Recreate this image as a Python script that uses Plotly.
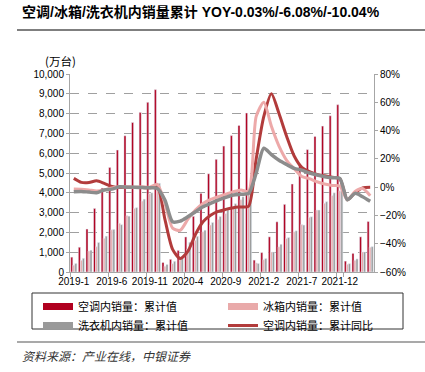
import plotly.graph_objects as go

months = ["2019-1", "2019-2", "2019-3", "2019-4", "2019-5", "2019-6", "2019-7", "2019-8", "2019-9", "2019-10", "2019-11", "2019-12",
          "2020-1", "2020-2", "2020-3", "2020-4", "2020-5", "2020-6", "2020-7", "2020-8", "2020-9", "2020-10", "2020-11", "2020-12",
          "2021-1", "2021-2", "2021-3", "2021-4", "2021-5", "2021-6", "2021-7", "2021-8", "2021-9", "2021-10", "2021-11", "2021-12",
          "2022-1", "2022-2", "2022-3", "2022-4"]

tick_labels = ["2019-1", "2019-6", "2019-11", "2020-4", "2020-9", "2021-2", "2021-7", "2021-12"]

# cumulative domestic sales (万台)
ac_cum = [750, 1250, 2170, 3210, 4240, 5280, 6160, 6880, 7550, 8060, 8570, 9210,
          480, 640, 1090, 1770, 2810, 3970, 4960, 5690, 6360, 6890, 7400, 8030,
          600, 980, 1775, 2535, 3415, 4445, 5450, 6180, 6845, 7370, 7890, 8450,
          550, 940, 1775, 2550]
fridge_cum = [340, 590, 1060, 1280, 1700, 2130, 2460, 2850, 3210, 3580, 3950, 4150,
              290, 420, 700, 1150, 1600, 2030, 2370, 2650, 2950, 3300, 3650, 4000,
              460, 620, 1010, 1270, 1690, 2030, 2400, 2760, 3130, 3470, 3860, 4100,
              390, 590, 1010, 1250]
washer_cum = [430, 690, 1100, 1490, 1810, 2150, 2390, 2820, 3250, 3680, 4000, 4480,
              380, 540, 780, 1500, 1800, 2110, 2500, 2800, 3130, 3450, 3800, 4250,
              430, 680, 1010, 1400, 1740, 2080, 2370, 2790, 3130, 3550, 4000, 4480,
              420, 660, 1010, 1280]

# cumulative YoY (%)
ac_yoy = [6.2, 3.4, 3.3, 4.5, 2.7, 0.5, -0.3, 0.0, -0.2, -0.3, -0.5, 0.3,
          -23.0, -44.0, -50.5, -45.5, -33.5, -24.5, -19.8, -17.2, -15.7, -14.5, -14.0, -13.5,
          20.0, 50.0, 66.0, 52.0, 36.0, 22.0, 14.0, 11.0, 9.0, 8.0, 7.0, 6.0,
          -9.0, -4.0, -0.5, -0.03]
fridge_yoy = [-1.4, -1.5, -2.0, -2.7, -2.0, -0.5, 0.3, 0.3, 0.0, 0.2, 0.0, 2.0,
              -11.5, -29.0, -30.5, -22.8, -16.2, -11.5, -8.7, -6.8, -5.0, -3.2, -2.0, -3.0,
              50.0, 60.0, 43.0, 29.0, 19.0, 13.0, 7.5, 6.0, 3.8, 2.2, 1.2, 0.8,
              -9.0, -3.0, -1.0, -6.08]
washer_yoy = [-3.2, -3.0, -3.5, -4.0, -2.0, -1.4, 0.2, 0.0, 0.0, -0.3, -0.5, -0.9,
              -9.3, -24.5, -24.0, -21.0, -17.4, -13.9, -11.5, -9.2, -7.2, -5.6, -5.0, -4.4,
              10.0, 27.5, 23.0, 19.0, 16.0, 13.3, 12.0, 10.0, 8.6, 7.4, 6.7, 6.2,
              -9.0, -4.4, -6.8, -10.04]

RED = "#B0001F"
PINK = "#E9AAAA"
GRAY = "#9A9A9A"
L_RED = "#B23B3B"
L_PINK = "#EDA9A9"
L_GRAY = "#8C8C8C"

FONT = "Liberation Sans, Arial, Noto Sans CJK SC, sans-serif"
CJK = "Noto Sans CJK SC, Liberation Sans, sans-serif"
SMOOTH = 0.7

fig = go.Figure()

fig.add_trace(go.Bar(x=months, y=ac_cum, marker_color=RED, showlegend=False, name="空调内销量：累计值"))
fig.add_trace(go.Bar(x=months, y=fridge_cum, marker_color=PINK, showlegend=False, name="冰箱内销量：累计值"))
fig.add_trace(go.Bar(x=months, y=washer_cum, marker_color=GRAY, showlegend=False, name="洗衣机内销量：累计值"))

fig.add_trace(go.Scatter(x=months, y=ac_yoy, yaxis="y2", mode="lines",
                         line=dict(color=L_RED, width=3, shape="spline", smoothing=SMOOTH),
                         name="空调内销量：累计同比", legend="legend2", legendrank=2))
fig.add_trace(go.Scatter(x=months, y=fridge_yoy, yaxis="y2", mode="lines",
                         line=dict(color=L_PINK, width=3, shape="spline", smoothing=SMOOTH),
                         showlegend=False))
fig.add_trace(go.Scatter(x=months, y=washer_yoy, yaxis="y2", mode="lines",
                         line=dict(color=L_GRAY, width=3.5, shape="spline", smoothing=SMOOTH),
                         showlegend=False))

# legend-only entries with bar-like wide swatches
fig.add_trace(go.Scatter(x=[None], y=[None], mode="lines", line=dict(color=RED, width=7),
                         name="空调内销量：累计值", legend="legend", legendrank=1))
fig.add_trace(go.Scatter(x=[None], y=[None], mode="lines", line=dict(color=GRAY, width=7),
                         name="洗衣机内销量：累计值", legend="legend", legendrank=2))
fig.add_trace(go.Scatter(x=[None], y=[None], mode="lines", line=dict(color=PINK, width=7),
                         name="冰箱内销量：累计值", legend="legend2", legendrank=1))

W, H = 425, 372
L, R, T, B = 70, 51, 74, 100
pw = W - L - R
ph = H - T - B


def px_x(x):
    return (x - L) / pw


def px_y(y):
    return (H - B - y) / ph


fig.update_layout(
    width=W, height=H,
    margin=dict(l=L, r=R, t=T, b=B, autoexpand=False),
    paper_bgcolor="white", plot_bgcolor="white",
    barmode="group", bargap=0.2, bargroupgap=0.0,
    font=dict(family=FONT, size=10, color="#000"),
    title=dict(text="<b>空调/冰箱/洗衣机内销量累计 YOY-0.03%/-6.08%/-10.04%</b>",
               x=22 / W, xanchor="left", xref="container",
               y=1 - 12 / H, yanchor="middle", yref="container",
               font=dict(family=FONT, size=14, color="#000")),
    xaxis=dict(type="category", tickmode="array", tickvals=tick_labels, ticktext=tick_labels,
               showgrid=False, showline=True, linecolor="#A6A6A6", linewidth=1,
               ticks="outside", ticklen=4, tickcolor="#A6A6A6", tickson="boundaries",
               tickfont=dict(size=10, family=FONT), tickangle=0),
    yaxis=dict(range=[0, 10000], dtick=1000, tickformat=",", showgrid=True,
               gridcolor="#A0A0A0", griddash="dash", gridwidth=1,
               showline=True, linecolor="#A6A6A6", linewidth=1,
               ticks="outside", ticklen=3, tickcolor="#A6A6A6",
               tickfont=dict(size=10, family=FONT), zeroline=False),
    yaxis2=dict(range=[-60, 80], dtick=20, ticksuffix="%", overlaying="y", side="right",
                showgrid=False, showline=True, linecolor="#A6A6A6", linewidth=1,
                ticks="outside", ticklen=3, tickcolor="#A6A6A6",
                tickfont=dict(size=10, family=FONT), zeroline=False),
    legend=dict(x=px_x(38), y=px_y(292), xanchor="left", yanchor="top",
                bgcolor="rgba(0,0,0,0)", font=dict(size=11, family=CJK),
                orientation="v", tracegroupgap=0, itemwidth=30),
    legend2=dict(x=px_x(223), y=px_y(292), xanchor="left", yanchor="top",
                 bgcolor="rgba(0,0,0,0)", font=dict(size=11, family=CJK),
                 orientation="v", tracegroupgap=0, itemwidth=30),
    shapes=[
        dict(type="rect", xref="paper", yref="paper", x0=px_x(32), x1=px_x(403),
             y0=px_y(329), y1=px_y(293), line=dict(color="#333", width=1)),
        dict(type="line", xref="paper", yref="paper", x0=px_x(17), x1=px_x(425),
             y0=px_y(30), y1=px_y(30), line=dict(color="#555", width=1.5)),
        dict(type="line", xref="paper", yref="paper", x0=px_x(17), x1=px_x(425),
             y0=px_y(342), y1=px_y(342), line=dict(color="#555", width=1.2)),
    ],
    annotations=[
        dict(text="(万台)", xref="paper", yref="paper", x=px_x(60), y=px_y(61),
             xanchor="center", yanchor="middle", showarrow=False,
             font=dict(size=11.5, family=CJK, color="#000")),
        dict(text="<i>资料来源：产业在线，中银证券</i>", xref="paper", yref="paper",
             x=px_x(20), y=px_y(355), xanchor="left", yanchor="middle", showarrow=False,
             font=dict(size=12, family=CJK, color="#333")),
    ],
)

fig.write_html("out.html", config={"displayModeBar": False},
               post_script="document.body.style.margin='0';document.body.style.overflow='hidden';")
